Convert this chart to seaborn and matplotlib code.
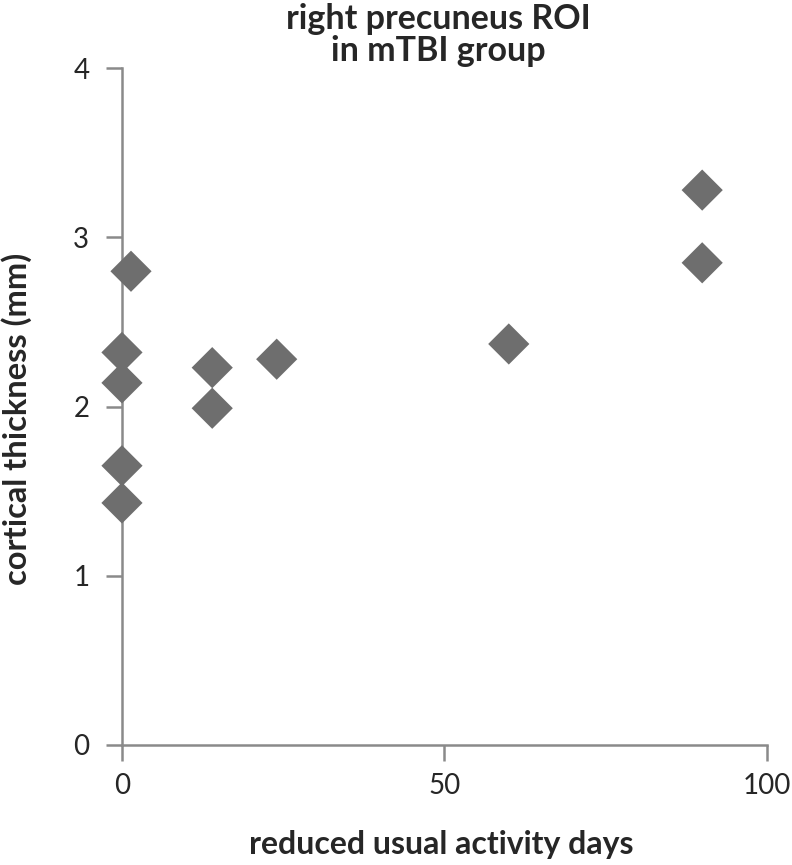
import matplotlib
matplotlib.use('Agg')
import matplotlib.pyplot as plt
import seaborn as sns
import pandas as pd

# values
activity_days = [0, 0, 0, 0, 1.4, 14, 14, 24, 60, 90, 90]
thickness_mm = [1.43, 1.65, 2.14, 2.32, 2.80, 2.23, 1.99, 2.28, 2.37, 3.28, 2.85]

x_ticks = [0, 50, 100]
y_ticks = [0, 1, 2, 3, 4]

df = pd.DataFrame({'days': activity_days, 'thickness': thickness_mm})

sns.set_style('white')
plt.rcParams['font.family'] = ['Lato', 'DejaVu Sans']

fig = plt.figure(figsize=(7.92, 8.65), dpi=100)
ax = fig.add_axes([0.154, 0.139, 0.814, 0.782])

sns.scatterplot(data=df, x='days', y='thickness', marker='D', s=440,
                color='#6e6e6e', edgecolor='none', ax=ax, clip_on=False, zorder=5)

ax.set_xlim(0, 100)
ax.set_ylim(0, 4)
ax.set_xticks(x_ticks)
ax.set_yticks(y_ticks)

sns.despine(ax=ax)
for side in ['left', 'bottom']:
    ax.spines[side].set_color('#8a8a8a')
    ax.spines[side].set_linewidth(1.8)
ax.tick_params(axis='both', direction='out', length=11.5, width=1.8,
               color='#8a8a8a', labelsize=20, left=True, bottom=True)
ax.tick_params(axis='y', pad=12)
ax.tick_params(axis='x', pad=9)

ax.set_xlabel('reduced usual activity days', fontsize=23, fontweight='bold')
ax.xaxis.set_label_coords(0.496, -0.148)
ax.xaxis.label.set_va('center')
ax.set_ylabel('cortical thickness (mm)', fontsize=23.5, fontweight='bold')
ax.yaxis.set_label_coords(-0.164, 0.482)
ax.yaxis.label.set_va('center')

fig.text(0.553, 0.997, 'right precuneus ROI\nin mTBI group', fontsize=24.5,
         fontweight='bold', ha='center', va='top', linespacing=1.02)

plt.savefig('out.png', dpi=100)
